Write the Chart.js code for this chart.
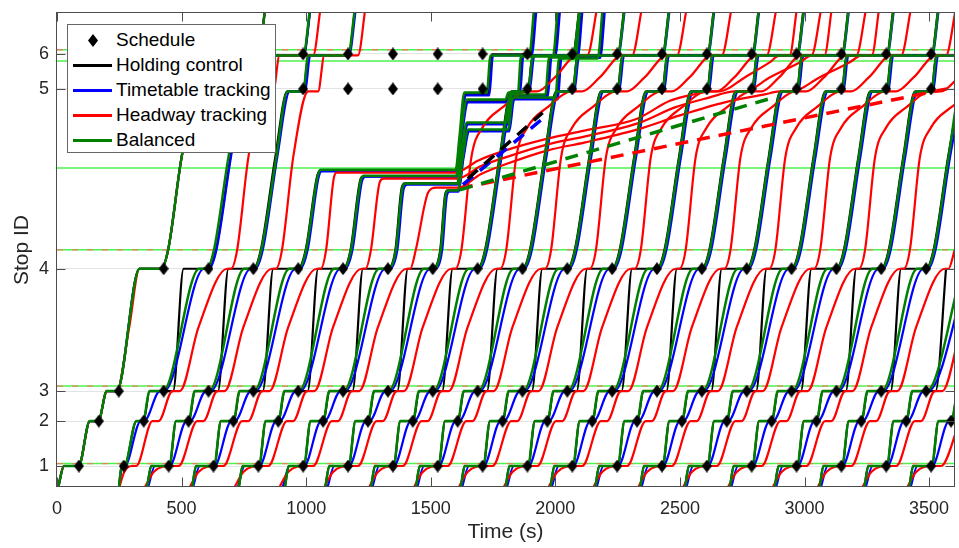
<!DOCTYPE html>
<html>
<head>
<meta charset="utf-8">
<script src="https://cdn.jsdelivr.net/npm/chart.js@4.4.1/dist/chart.umd.min.js"></script>
<style>
  body { margin: 0; background: #fff; }
  #wrap { position: relative; width: 959px; height: 548px; }
  #legend {
    position: absolute; left: 67px; top: 24px; width: 209px; height: 129px;
    background: #fff; border: 1px solid #666; box-sizing: border-box;
    font-family: "Liberation Sans", Arial, sans-serif; font-size: 19px; color: #000;
  }
  .row { position: absolute; left: 0; height: 24px; line-height: 24px; width: 100%; }
  .row span.txt { position: absolute; left: 48px; top: 0; white-space: nowrap; }
  .row span.ln { position: absolute; left: 5px; top: 11px; width: 39px; height: 3px; }
  .row span.dia {
    position: absolute; left: 20px; top: 6px; width: 10px; height: 13px; background: #000;
    clip-path: polygon(50% 0, 100% 50%, 50% 100%, 0 50%);
  }
</style>
</head>
<body>
<div id="wrap">
  <canvas id="c" width="959" height="548" style="width:959px;height:548px"></canvas>
  <div id="legend">
    <div class="row" style="top:3px"><span class="dia"></span><span class="txt">Schedule</span></div>
    <div class="row" style="top:28px"><span class="ln" style="background:#000"></span><span class="txt">Holding control</span></div>
    <div class="row" style="top:53px"><span class="ln" style="background:#0000ff"></span><span class="txt">Timetable tracking</span></div>
    <div class="row" style="top:78px"><span class="ln" style="background:#ff0000"></span><span class="txt">Headway tracking</span></div>
    <div class="row" style="top:103px"><span class="ln" style="background:#008000"></span><span class="txt">Balanced</span></div>
  </div>
</div>
<script>
// ---- axes ----
const xTicks = [0, 500, 1000, 1500, 2000, 2500, 3000, 3500];
const stopPos = [210, 660, 960, 2185, 3985, 4335];
const stopLabels = ['1', '2', '3', '4', '5', '6'];

// ---- signals (green), with red dashes on some ----
const signalPos = [234, 1010, 2374, 3194, 4264, 4377];
const signalDashed = [234, 1010, 2374, 4377];

// ---- schedule (s) per stop ----
const sched1 = [88,268,448,628,808,988,1168,1348,1528,1708,1888,2068,2248,2428,2608,2788,2968,3148,3328,3508];
const sched2 = [168,348,528,708,888,1068,1248,1428,1608,1788,1968,2148,2328,2508,2688,2868,3048,3228,3408,3588];
const sched3 = [248,428,608,788,968,1148,1328,1508,1688,1868,2048,2228,2408,2588,2768,2948,3128,3308,3488];
const sched4 = [428,608,788,968,1148,1328,1508,1688,1868,2048,2228,2408,2588,2768,2948,3128,3308,3488];
const sched5 = [628,808,988,1168,1348,1528,1708,1888,2068,2248,2428,2608,2788,2968,3148,3328,3508];
const sched6 = [628,808,988,1168,1348,1528,1708,1888,2068,2248,2428,2608,2788,2968,3148,3328,3508];

// ---- position levels passed by each row of times ----
const lvlA = [0,210,210,660,660,960,960,2185,2185,2374,3300,3960,3960,4320,4320,4800];
const lvlR = [0,150,210,210,660,660,960,960,1600,2185,2185,2374,3300,3960,3960,4320,4320,4800];
const lvlRL = [0,150,210,210,660,660,960,960,1600,2185,2185,2374,3300,3600,3800,3960,3960,4100,4320,4320,4800];

// ---- Holding control (black) ----
const holdRows = [
  [5,28,87,132,166,200,240,331,418,446,500,560,628,650,808,836],
  [249,259,271,319,347,372,466,508,608,638,696,744,809,829,989,1017],
  [362,378,451,478,530,553,646,688,788,818,876,924,989,1009,1169,1197],
  [543,558,631,658,710,733,826,868,968],
  [730,745,811,838,890,913,1006,1048,1148],
  [915,930,991,1018,1070,1093,1186,1228,1328],
  [1077,1093,1171,1198,1250,1273,1366,1408,1508],
  [1261,1276,1351,1378,1430,1453,1546,1588,1688,1718,1776,1824,1889,1909,2069,2097],
  [1441,1456,1531,1558,1610,1633,1726,1768,1868,1898,1956,2004,2069,2089,2249,2277],
  [1621,1636,1711,1738,1790,1813,1906,1948,2048,2078,2136,2184,2249,2269,2429,2457],
  [1801,1816,1891,1918,1970,1993,2086,2128,2228,2258,2316,2364,2429,2449,2609,2637],
  [1981,1996,2071,2098,2150,2173,2266,2308,2408,2438,2496,2544,2609,2629,2789,2817],
  [2161,2176,2251,2278,2330,2353,2446,2488,2588,2618,2676,2724,2789,2809,2969,2997],
  [2341,2356,2431,2458,2510,2533,2626,2668,2768,2798,2856,2904,2969,2989,3149,3177],
  [2521,2536,2611,2638,2690,2713,2806,2848,2948,2978,3036,3084,3149,3169,3329,3357],
  [2701,2716,2791,2818,2870,2893,2986,3028,3128,3158,3216,3264,3329,3349,3509,3537],
  [2881,2896,2971,2998,3050,3073,3166,3208,3308,3338,3396,3444,3509,3529,3689,3717],
  [3061,3076,3151,3178,3230,3253,3346,3388,3488,3518,3576,3624],
  [3241,3256,3331,3358,3410,3433,3526,3568],
  [3421,3436,3511,3538,3590,3613]
];
const holdUp = [null, null, null,
  [998,2374, 1043,3100, 1056,3170, 1601,3170, 1618,3500, 1640,3930, 1730,3930, 1745,4330, 1900,4330, 1920,4800],
  [1178,2374, 1218,3080, 1230,3110, 1604,3110, 1622,3500, 1648,3860, 1802,3860, 1815,3940, 1855,3940, 1868,4320, 1995,4320, 2015,4800],
  [1358,2374, 1383,2990, 1396,3040, 1607,3040, 1627,3400, 1648,3640, 1808,3640, 1828,3920, 1965,3920, 1980,4310, 2085,4310, 2105,4800],
  [1538,2374, 1558,2930, 1568,2970, 1610,2970, 1630,3300, 1652,3570, 1812,3570, 1832,3890, 2005,3890, 2020,4300, 2175,4300, 2195,4800]
];
const holdDash = [1649,3087, 1949,3747];

// ---- Timetable tracking (blue) ----
const ttRows = [
  [5,28,87,132,166,200,240,331,418,446,500,560,628,650,808,836],
  [249,262,272,336,350,413,430,590,610,640,698,748,812,832,990,1018],
  [366,393,452,520,534,598,616,778,796,826,884,934,996,1016,1172,1200],
  [546,573,632,700,714,778,796,958,976],
  [726,753,812,880,894,958,976,1138,1156],
  [906,933,992,1060,1074,1138,1156,1318,1336],
  [1086,1113,1172,1240,1254,1318,1336,1498,1516],
  [1266,1293,1352,1420,1434,1498,1516,1678,1696,1726,1784,1834,1896,1916,2072,2100],
  [1446,1473,1532,1600,1614,1678,1696,1858,1876,1906,1964,2014,2076,2096,2252,2280],
  [1626,1653,1712,1780,1794,1858,1876,2038,2056,2086,2144,2194,2256,2276,2432,2460],
  [1806,1833,1892,1960,1974,2038,2056,2218,2236,2266,2324,2374,2436,2456,2612,2640],
  [1986,2013,2072,2140,2154,2218,2236,2398,2416,2446,2504,2554,2616,2636,2792,2820],
  [2166,2193,2252,2320,2334,2398,2416,2578,2596,2626,2684,2734,2796,2816,2972,3000],
  [2346,2373,2432,2500,2514,2578,2596,2758,2776,2806,2864,2914,2976,2996,3152,3180],
  [2526,2553,2612,2680,2694,2758,2776,2938,2956,2986,3044,3094,3156,3176,3332,3360],
  [2706,2733,2792,2860,2874,2938,2956,3118,3136,3166,3224,3274,3336,3356,3512,3540],
  [2886,2913,2972,3040,3054,3118,3136,3298,3316,3346,3404,3454,3516,3536,3692,3720],
  [3066,3093,3152,3220,3234,3298,3316,3478,3496,3526,3584,3634],
  [3246,3273,3332,3400,3414,3478,3496,3658],
  [3426,3453,3512,3580,3594,3658]
];
const ttUp = [null, null, null,
  [1006,2374, 1050,3100, 1062,3160, 1602,3160, 1620,3500, 1642,3920, 1735,3920, 1750,4320, 1905,4320, 1925,4800],
  [1186,2374, 1225,3070, 1238,3107, 1605,3107, 1624,3500, 1650,3850, 1805,3850, 1818,3935, 1858,3935, 1872,4315, 2000,4315, 2020,4800],
  [1366,2374, 1392,2990, 1405,3027, 1608,3027, 1628,3400, 1650,3630, 1810,3630, 1830,3910, 1970,3910, 1985,4305, 2090,4305, 2110,4800],
  [1546,2374, 1565,2920, 1575,2957, 1611,2957, 1632,3300, 1655,3560, 1815,3560, 1835,3880, 2010,3880, 2025,4295, 2180,4295, 2200,4800]
];
const ttDash = [1629,3027, 1949,3687];

// ---- Headway tracking (red) ----
const hwRowsEarly = [
  [5,18,28,87,132,166,200,240,290,331,418,446,500,560,628,650,808,836],
  [250,270,300,318,383,408,463,493,568,683,698,723,768,828,868,893,1028,1058],
  [353,388,458,488,563,588,643,673,748,863,878,903,948,1008,1048,1073,1208,1238],
  [533,568,638,668,743,768,823,853,928,1043,1058],
  [713,748,818,848,923,948,1003,1033,1108,1223,1238],
  [893,928,998,1028,1103,1128,1183,1213,1288,1403,1418]
];
const hwUp = [null, null, null,
  [1080,2374, 1110,3080, 1122,3147, 1600,3147, 1689,3267, 1797,3367, 1969,3487, 2117,3567, 2328,3687, 2460,3867, 2568,3937, 2620,3960, 2660,3960, 2760,4100, 2860,4250, 2900,4320, 2940,4320, 2970,4800],
  [1260,2374, 1295,3050, 1310,3087, 1605,3087, 1700,3210, 1800,3300, 1970,3430, 2120,3510, 2330,3640, 2480,3800, 2620,3900, 2720,3960, 2760,3960, 2860,4100, 2980,4250, 3030,4320, 3080,4320, 3110,4800],
  [1440,2374, 1490,2950, 1521,2997, 1610,2997, 1700,3130, 1800,3230, 1970,3370, 2120,3450, 2330,3580, 2500,3720, 2680,3850, 2840,3930, 2900,3960, 2950,3960, 3060,4100, 3180,4250, 3230,4320, 3270,4320, 3300,4800]
];
const hwRowsLate = [
  [1073,1108,1178,1208,1283,1308,1363,1393,1468,1583,1598,1623,1663,1708,1788,1888,1928,1998,2088,2128,2168],
  [1253,1288,1358,1388,1463,1488,1543,1573,1648,1763,1778,1803,1843,1888,1968,2068,2108,2178,2268,2308,2348],
  [1433,1468,1538,1568,1643,1668,1723,1753,1828,1943,1958,1983,2023,2068,2148,2248,2288,2358,2448,2488,2528],
  [1613,1648,1718,1748,1823,1848,1903,1933,2008,2123,2138,2163,2203,2248,2328,2428,2468,2538,2628,2668,2708],
  [1793,1828,1898,1928,2003,2028,2083,2113,2188,2303,2318,2343,2383,2428,2508,2608,2648,2718,2808,2848,2888],
  [1973,2008,2078,2108,2183,2208,2263,2293,2368,2483,2498,2523,2563,2608,2688,2788,2828,2898,2988,3028,3068],
  [2153,2188,2258,2288,2363,2388,2443,2473,2548,2663,2678,2703,2743,2788,2868,2968,3008,3078,3168,3208,3248],
  [2333,2368,2438,2468,2543,2568,2623,2653,2728,2843,2858,2883,2923,2968,3048,3148,3188,3258,3348,3388,3428],
  [2513,2548,2618,2648,2723,2748,2803,2833,2908,3023,3038,3063,3103,3148,3228,3328,3368,3438,3528,3568,3608],
  [2693,2728,2798,2828,2903,2928,2983,3013,3088,3203,3218,3243,3283,3328,3408,3508,3548,3618,3708],
  [2873,2908,2978,3008,3083,3108,3163,3193,3268,3383,3398,3423,3463,3508,3588,3688],
  [3053,3088,3158,3188,3263,3288,3343,3373,3448,3563,3578,3603],
  [3233,3268,3338,3368,3443,3468,3523,3553,3628],
  [3413,3448,3518,3548,3623]
];
const hwDash = [1617,2990, 3600,4000];

// ---- Balanced (green) ----
const balRows = [
  [5,28,87,132,166,200,240,331,418,446,500,560,628,650,808,836],
  [249,259,270,319,345,372,425,571,600,630,688,740,808,828,988,1016],
  [362,378,450,478,528,553,610,752,790,820,880,925,988,1008,1168,1196],
  [543,558,630,658,708,733,790,933,970],
  [730,745,810,838,888,913,970,1113,1150],
  [915,930,990,1018,1068,1093,1150,1293,1330],
  [1077,1093,1170,1198,1248,1273,1330,1473,1510],
  [1261,1276,1350,1378,1428,1453,1510,1653,1690,1720,1778,1826,1890,1910,2070,2098],
  [1441,1456,1530,1558,1608,1633,1690,1833,1870,1900,1958,2006,2070,2090,2250,2278],
  [1621,1636,1710,1738,1788,1813,1870,2013,2050,2080,2138,2186,2250,2270,2430,2458],
  [1801,1816,1890,1918,1968,1993,2050,2193,2230,2260,2318,2366,2430,2450,2610,2638],
  [1981,1996,2070,2098,2148,2173,2230,2373,2410,2440,2498,2546,2610,2630,2790,2818],
  [2161,2176,2250,2278,2328,2353,2410,2553,2590,2620,2678,2726,2790,2810,2970,2998],
  [2341,2356,2430,2458,2508,2533,2590,2733,2770,2800,2858,2906,2970,2990,3150,3178],
  [2521,2536,2610,2638,2688,2713,2770,2913,2950,2980,3038,3086,3150,3170,3330,3358],
  [2701,2716,2790,2818,2868,2893,2950,3093,3130,3160,3218,3266,3330,3350,3510,3538],
  [2881,2896,2970,2998,3048,3073,3130,3273,3310,3340,3398,3446,3510,3530,3690,3718],
  [3061,3076,3150,3178,3228,3253,3310,3453,3490,3520,3578,3626,3690,3710],
  [3241,3256,3330,3358,3408,3433,3490,3633],
  [3421,3436,3510,3538,3588,3613]
];
const balUp = [null, null, null,
  [1000,2374, 1045,3100, 1058,3177, 1600,3177, 1615,3500, 1635,3950, 1725,3950, 1740,4320, 1895,4320, 1915,4800],
  [1180,2374, 1220,3080, 1232,3117, 1603,3117, 1620,3500, 1645,3880, 1800,3880, 1812,3950, 1850,3950, 1862,4310, 1990,4310, 2010,4800],
  [1360,2374, 1385,2980, 1398,3037, 1606,3037, 1625,3400, 1645,3650, 1805,3650, 1825,3930, 1960,3930, 1975,4300, 2080,4300, 2100,4800],
  [1540,2374, 1560,2930, 1570,2967, 1609,2967, 1628,3300, 1650,3580, 1810,3580, 1830,3900, 2000,3900, 2015,4290, 2170,4290, 2190,4800]
];
const balDash = [1617,2975, 2887,3907];

// ---- helpers ----
const FONT = '"Liberation Sans", Arial, sans-serif';
const C = { hold: '#000000', tt: '#0000ff', hw: '#ff0000', bal: '#008000' };

function path(row, lv, up) {
  const pts = row.map((t, i) => ({ x: t, y: lv[i] }));
  if (up) for (let i = 0; i < up.length; i += 2) pts.push({ x: up[i], y: up[i + 1] });
  return pts;
}
function pairs(a) {
  const pts = [];
  for (let i = 0; i < a.length; i += 2) pts.push({ x: a[i], y: a[i + 1] });
  return pts;
}
function traj(data, color, order, w) {
  return {
    data, borderColor: color, borderWidth: w || 2.2, pointRadius: 0,
    cubicInterpolationMode: 'monotone', fill: false, order,
  };
}

const dia = document.createElement('canvas');
dia.width = 10; dia.height = 13;
(function () {
  const g = dia.getContext('2d');
  g.beginPath(); g.moveTo(5, 0); g.lineTo(10, 6.5); g.lineTo(5, 13); g.lineTo(0, 6.5); g.closePath();
  g.fillStyle = '#000'; g.fill();
})();

const datasets = [];

// schedule markers
[sched1, sched2, sched3, sched4, sched5, sched6].forEach((s, i) => {
  datasets.push({
    data: s.map(t => ({ x: t, y: stopPos[i] })),
    showLine: false, pointStyle: dia, pointRadius: 5, borderWidth: 0, order: 0,
  });
});

// dashed trajectories
[[holdDash, C.hold], [ttDash, C.tt], [balDash, C.bal], [hwDash, C.hw]].forEach(([d, col]) => {
  datasets.push({ data: pairs(d), borderColor: col, borderWidth: 3.5, borderDash: [13, 9], pointRadius: 0, order: 1 });
});

balRows.forEach((r, k) => datasets.push(traj(path(r, lvlA, balUp[k]), C.bal, 2, 2.5)));
hwRowsEarly.forEach((r, k) => datasets.push(traj(path(r, lvlR, hwUp[k]), C.hw, 3)));
hwRowsLate.forEach(r => datasets.push(traj(path(r, lvlRL), C.hw, 3)));
ttRows.forEach((r, k) => datasets.push(traj(path(r, lvlA, ttUp[k]), C.tt, 4)));
holdRows.forEach((r, k) => datasets.push(traj(path(r, lvlA, holdUp[k]), C.hold, 5)));

// signals
signalDashed.forEach(v => datasets.push({
  data: [{ x: 0, y: v }, { x: 3600, y: v }], borderColor: 'rgba(255,110,90,0.85)', borderWidth: 1.4,
  borderDash: [6, 9], pointRadius: 0, order: 6,
}));
signalPos.forEach(v => datasets.push({
  data: [{ x: 0, y: v }, { x: 3600, y: v }], borderColor: '#4cf24c', borderWidth: 1.5, pointRadius: 0, order: 7,
}));

// axes box + inward ticks, MATLAB style
const frame = {
  id: 'frame',
  afterDraw(chart) {
    const { ctx, chartArea: a, scales: { x, y } } = chart;
    const L = a.left - 0.5, R = a.right + 0.5, T = a.top - 0.5, B = a.bottom - 0.5, tl = 9;
    ctx.save();
    ctx.strokeStyle = '#4d4d4d';
    ctx.lineWidth = 1;
    ctx.strokeRect(L, T, R - L, B - T);
    ctx.beginPath();
    xTicks.forEach(v => {
      const px = Math.round(x.getPixelForValue(v)) + 0.5;
      ctx.moveTo(px, B); ctx.lineTo(px, B - tl);
      ctx.moveTo(px, T); ctx.lineTo(px, T + tl);
    });
    stopPos.forEach(v => {
      const py = Math.round(y.getPixelForValue(v)) + 0.5;
      ctx.moveTo(L, py); ctx.lineTo(L + tl, py);
      ctx.moveTo(R, py); ctx.lineTo(R - tl, py);
    });
    ctx.stroke();
    ctx.restore();
  }
};

new Chart(document.getElementById('c'), {
  type: 'line',
  data: { datasets },
  options: {
    responsive: false,
    devicePixelRatio: 1,
    animation: false,
    events: [],
    layout: { padding: { top: 13, right: 2, left: 0, bottom: 0 } },
    plugins: { legend: { display: false }, tooltip: { enabled: false } },
    scales: {
      x: {
        type: 'linear', min: 0, max: 3600,
        afterBuildTicks: s => { s.ticks = xTicks.map(v => ({ value: v })); },
        afterFit: s => { s.height = 61; s.paddingLeft = 0; s.paddingRight = 0; },
        ticks: { callback: v => String(v), color: '#262626', font: { family: FONT, size: 18 }, padding: 11, maxRotation: 0 },
        grid: { display: false, drawTicks: false },
        border: { display: false },
        title: { display: true, text: 'Time (s)', color: '#262626', font: { family: FONT, size: 21 }, padding: { bottom: 3, top: 0 } },
      },
      y: {
        type: 'linear', min: 0, max: 4745,
        afterBuildTicks: s => { s.ticks = stopPos.map(v => ({ value: v })); },
        afterFit: s => { s.width = 57; s.paddingTop = 0; s.paddingBottom = 0; },
        ticks: { callback: v => stopLabels[stopPos.indexOf(v)], color: '#262626', font: { family: FONT, size: 18 }, padding: 8 },
        grid: { color: '#e3e3e3', lineWidth: 1, drawTicks: false },
        border: { display: false },
        title: { display: true, text: 'Stop ID', color: '#262626', font: { family: FONT, size: 21 }, padding: { top: 10, bottom: 0 } },
      },
    },
  },
  plugins: [frame],
});
</script>
</body>
</html>
